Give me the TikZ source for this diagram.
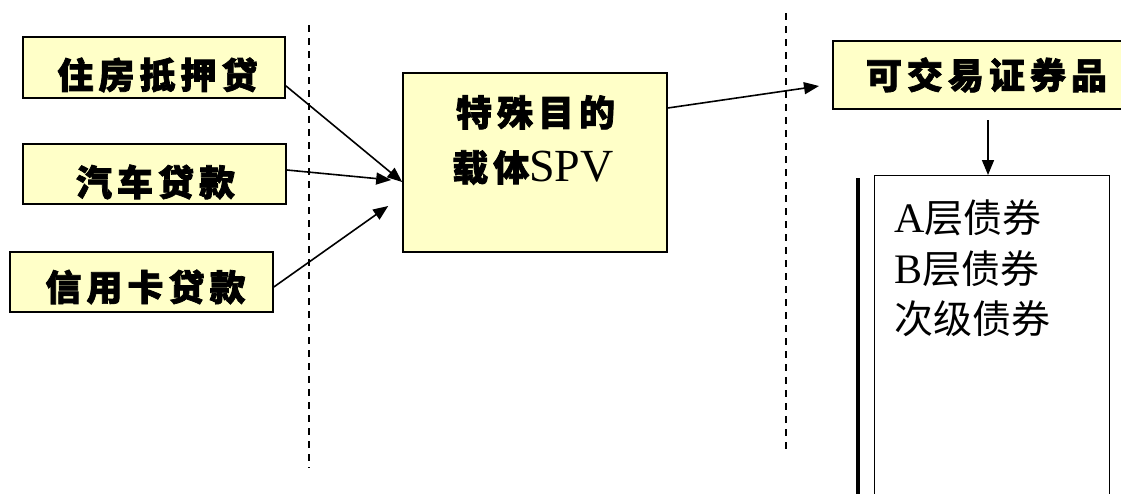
\documentclass[tikz,border=0pt]{standalone}
\usepackage{fontspec}
\setmainfont{Liberation Serif}
\newfontfamily\boxcjk[LetterSpace=14,BoldFeatures={FakeBold=2}]{Noto Sans CJK SC}
\newfontfamily\plaincjk{Noto Sans CJK SC}
\usetikzlibrary{arrows.meta}
\definecolor{yfill}{RGB}{255,255,200}
\begin{document}
\begin{tikzpicture}[x=1pt,y=-1pt,
  ybox/.style={draw=black, line width=1.6pt, fill=yfill, inner sep=0pt},
  btxt/.style={inner sep=0pt, font=\boxcjk\bfseries\fontsize{36pt}{38pt}\selectfont},
  arr/.style={line width=1.6pt, -{Triangle[length=15pt,width=12pt]}},
  sepline/.style={line width=1.6pt, dash pattern=on 7pt off 6pt},
  bondtxt/.style={anchor=base west, inner sep=0pt, font=\fontsize{42pt}{52pt}\selectfont},
  ]
\useasboundingbox (0,0) rectangle (1121,493);
% separators
\coordinate (s1t) at (309,25); \coordinate (s1b) at (309,468);
\coordinate (s2t) at (786,13); \coordinate (s2b) at (786,455);
\draw[sepline] (s1t) -- (s1b);
\draw[sepline] (s2t) -- (s2b);
% left boxes
\node[ybox, minimum width=262pt, minimum height=61pt] (b1) at (154,67.5) {};
\node[btxt] (b1t) at (155,75) {住房抵押贷\kern-5pt};
\node[ybox, minimum width=263pt, minimum height=60pt] (b2) at (154.5,174) {};
\node[btxt] (b2t) at (153,182) {汽车贷款\kern-5pt};
\node[ybox, minimum width=263pt, minimum height=60pt] (b3) at (141.5,282) {};
\node[btxt] (b3t) at (143,287) {信用卡贷款\kern-5pt};
% SPV
\node[ybox, minimum width=264pt, minimum height=179pt] (spv) at (535,162.5) {};
\node[btxt, align=center, font=\boxcjk\bfseries\fontsize{36pt}{55pt}\selectfont] (spvt) at (533,140)
  {特殊目的\kern-5pt\\载体{\fontspec{Liberation Serif}\mdseries\fontsize{46pt}{55pt}\selectfont SPV}};
% tradable securities
\node[ybox, minimum width=293pt, minimum height=68pt, anchor=west] (tr) at (832,75) {};
\node[btxt] (trt) at (984,75) {可交易证券品\kern-5pt};
% bonds box
\node[draw=black, line width=1.2pt, fill=white, minimum width=235pt, minimum height=330pt, anchor=north west, inner sep=0pt] (bond) at (874,175) {};
\draw[line width=4pt] (bond.north west) ++(-16pt,-3pt) coordinate (bar1) -- (bar1 |- 0,500);
\node[bondtxt] (l1) at (894,232) {A{\plaincjk\fontsize{39pt}{52pt}\selectfont 层债券}};
\node[bondtxt] (l2) at (894,283) {B{\plaincjk\fontsize{39pt}{52pt}\selectfont 层债券}};
\node[bondtxt] (l3) at (894,333) {\plaincjk\fontsize{39pt}{52pt}\selectfont 次级债券};
% arrows
\draw[arr] ([yshift=13pt]b1.south east) -- ([yshift=-19.5pt]spv.west);
\draw[arr] ([yshift=4pt]b2.east) -- ([xshift=-11pt,yshift=-17.5pt]spv.west);
\draw[arr] ([yshift=-5pt]b3.east) -- ([xshift=-14pt,yshift=-43.5pt]spv.west);
\draw[arr] ([yshift=54.5pt]spv.east) -- ([xshift=-13pt,yshift=-11pt]tr.west);
\coordinate (a1) at (988,120);
\draw[arr] (a1) -- (a1 |- bond.north);
\end{tikzpicture}
\end{document}
